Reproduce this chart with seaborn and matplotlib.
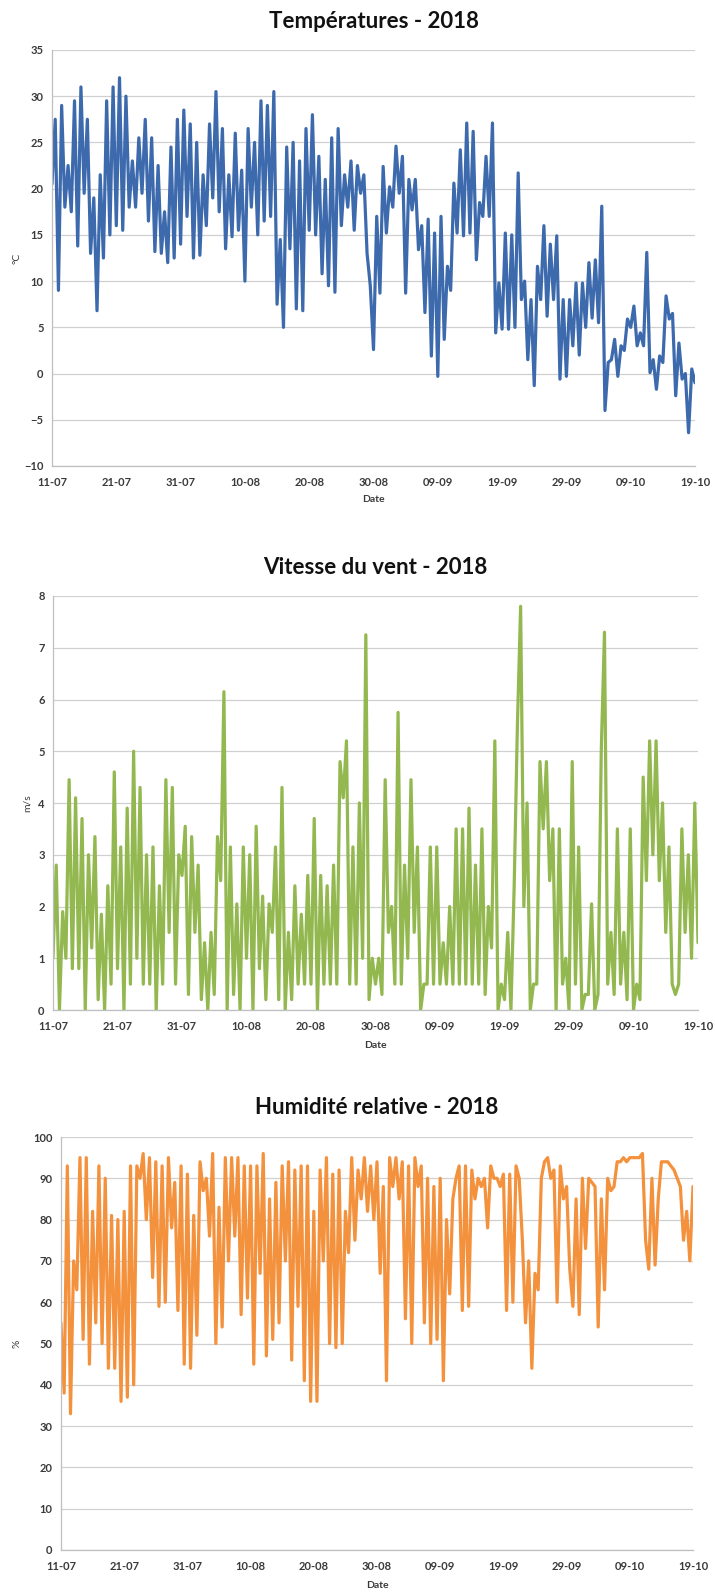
import numpy as np
import pandas as pd
import seaborn as sns
import matplotlib.pyplot as plt

# values every 12 h from 11-07-2018 00:00
temperature = [
    20.5, 27.5, 9, 29, 18, 22.5, 17.5, 29.5, 13.8, 31,
    19.5, 27.5, 13, 19, 6.8, 21.5, 12.5, 29.5, 15, 31,
    16, 32, 15.5, 30, 18, 23, 18, 25.5, 19.5, 27.5,
    16.5, 25.5, 13.2, 22.5, 13, 17.5, 12, 24.5, 12.5, 27.5,
    14, 28.5, 17, 27, 12.5, 25, 12.8, 21.5, 16, 27,
    19, 30.5, 17.5, 26.5, 13.5, 21.5, 14.8, 26, 15.5, 22,
    10, 26.5, 18, 25, 15, 29.5, 16.5, 29, 17, 30.5,
    7.5, 14.5, 5, 24.5, 13.5, 25, 7, 23, 6.8, 26.5,
    15.5, 28, 15, 23.5, 10.8, 21, 9.5, 25.5, 8.8, 26.5,
    16, 21.5, 18, 23, 15.5, 22.5, 19.5, 21.5, 13, 9.5,
    2.6, 17, 8.7, 22.4, 15.2, 20.2, 18, 24.6, 19.5, 23.5,
    8.7, 21, 17.7, 21, 13.4, 16, 6.6, 16.7, 1.9, 15.2,
    -0.3, 17, 3.7, 11.6, 9, 20.6, 15.2, 24.2, 14.9, 27.1,
    15.2, 26.2, 12.3, 18.5, 17, 23.5, 17, 27.1, 4.4, 9.8,
    4.8, 15.2, 4.8, 15, 5, 21.7, 8, 10, 1.5, 8,
    -1.3, 11.6, 8, 16, 6.2, 14, 8, 14.9, -0.6, 8,
    -0.3, 8, 3, 9.8, 2, 9.8, 5, 12, 6, 12.3,
    5.5, 18.1, -4, 1.2, 1.5, 3.7, -0.3, 3, 2.5, 5.9,
    5, 7.3, 3, 4.4, 3, 13.1, 0.1, 1.5, -1.7, 1.9,
    1.2, 8.4, 5.9, 6.5, -2.4, 3.3, -0.6, 0, -6.4, 0.5,
    -1,
]

wind = [
    1.0, 2.8, 0, 1.9, 1.0, 4.45, 0.8, 4.1, 0.8, 3.7,
    0, 3.0, 1.2, 3.35, 0.2, 1.85, 0, 2.4, 0.5, 4.6,
    0.8, 3.15, 0, 3.9, 0.5, 5.0, 1.0, 4.3, 0.5, 3.0,
    0.5, 3.15, 0, 2.4, 0.5, 4.45, 1.5, 4.3, 0.5, 3.0,
    2.6, 3.55, 0.3, 3.35, 1.5, 2.8, 0.2, 1.3, 0, 1.5,
    0.3, 3.35, 2.5, 6.15, 0, 3.15, 0.3, 2.05, 0, 3.15,
    1.0, 3.0, 0, 3.55, 0.8, 2.2, 0.2, 2.05, 1.5, 3.15,
    0.2, 4.3, 0, 1.5, 0.2, 2.4, 0.5, 1.85, 0.5, 2.6,
    0.5, 3.7, 0, 2.6, 0.5, 2.4, 0.5, 2.8, 0.5, 4.8,
    4.1, 5.2, 0.5, 3.15, 0.5, 4.0, 1.0, 7.25, 0.2, 1.0,
    0.5, 1.0, 0.3, 4.45, 1.5, 2.0, 0.5, 5.75, 0.5, 2.8,
    1.0, 4.45, 1.5, 3.15, 0, 0.5, 0.5, 3.15, 0.5, 3.15,
    0.5, 1.3, 0.5, 2.0, 0.5, 3.5, 0.5, 3.5, 0.5, 3.9,
    0.5, 2.8, 0.5, 3.5, 0.3, 2.0, 1.2, 5.2, 0, 0.5,
    0.2, 1.5, 0, 2.4, 5.5, 7.8, 2.0, 4.0, 0, 0.5,
    0.5, 4.8, 3.5, 4.8, 2.5, 3.5, 0, 3.5, 0.5, 1.0,
    0, 4.8, 0.5, 3.15, 0, 0.3, 0.3, 2.05, 0, 0.3,
    5.0, 7.3, 0.5, 1.5, 0.3, 3.5, 0.5, 1.5, 0.2, 3.5,
    0, 0.5, 0.2, 4.5, 2.5, 5.2, 3.0, 5.2, 2.5, 4.0,
    1.5, 3.15, 0.5, 0.3, 0.5, 3.5, 1.5, 3.0, 1.0, 4.0,
    1.3,
]

humidity = [
    55, 38, 93, 33, 70, 63, 95, 51, 95, 45,
    82, 55, 93, 50, 90, 44, 81, 44, 80, 36,
    82, 37, 93, 40, 93, 90, 96, 80, 95, 66,
    94, 59, 93, 60, 95, 78, 89, 58, 93, 45,
    91, 44, 81, 52, 94, 87, 90, 76, 96, 50,
    83, 54, 95, 70, 95, 76, 95, 57, 93, 61,
    93, 45, 93, 67, 96, 47, 85, 51, 89, 55,
    93, 70, 94, 46, 92, 59, 93, 41, 93, 36,
    82, 36, 92, 70, 95, 50, 91, 49, 92, 50,
    82, 72, 95, 75, 92, 85, 95, 82, 93, 80,
    94, 67, 88, 41, 95, 88, 95, 85, 94, 56,
    93, 50, 95, 88, 93, 55, 90, 50, 88, 51,
    90, 41, 80, 62, 85, 90, 93, 58, 93, 59,
    92, 85, 90, 88, 90, 78, 93, 90, 90, 88,
    91, 58, 91, 60, 93, 90, 75, 55, 70, 44,
    67, 63, 90, 94, 95, 90, 92, 60, 93, 85,
    88, 68, 59, 85, 57, 90, 73, 90, 89, 88,
    54, 85, 63, 90, 87, 88, 94, 94, 95, 94,
    95, 95, 95, 95, 96, 75, 68, 90, 69, 85,
    94, 94, 94, 93, 92, 90, 88, 75, 82, 70,
    88,
]

times = pd.date_range("2018-07-11", periods=len(temperature), freq="12h")
date_ticks = pd.date_range("2018-07-11", "2018-10-19", freq="10D")

sns.set_style("white")
plt.rcParams['font.family'] = ['Lato', 'DejaVu Sans']

H = 1594.0
W = 715.0
fig = plt.figure(figsize=(7.15, 15.94), dpi=100)


def draw_panel(box, values, color, title, unit, ymin, ymax, step, title_y, date_y, unit_x):
    left, right, top, bottom = box
    ax = fig.add_axes([left / W, 1 - bottom / H, (right - left) / W, (bottom - top) / H])
    df = pd.DataFrame({"Date": times, "valeur": values})
    sns.lineplot(data=df, x="Date", y="valeur", ax=ax, color=color, linewidth=2.3)

    ax.set_xlim(date_ticks[0], date_ticks[-1])
    ax.set_ylim(ymin, ymax)
    ax.set_yticks(np.arange(ymin, ymax + step / 2, step))
    ax.set_xticks(date_ticks)
    ax.set_xticklabels([d.strftime("%d-%m") for d in date_ticks])
    ax.yaxis.grid(True, color="#d0d0d0", linewidth=0.9)
    ax.xaxis.grid(False)
    ax.set_axisbelow(True)

    for s in ["top", "right"]:
        ax.spines[s].set_visible(False)
    for s in ["left", "bottom"]:
        ax.spines[s].set_color("#bfbfbf")
        ax.spines[s].set_linewidth(0.9)

    ax.tick_params(axis="both", length=3, width=0.8, color="#bfbfbf",
                   labelsize=8, labelcolor="#3a3a3a")
    ax.tick_params(axis="x", pad=5)
    ax.tick_params(axis="y", pad=3)
    for lab in ax.get_xticklabels() + ax.get_yticklabels():
        lab.set_fontweight("bold")
    ax.set_xlabel("")
    ax.set_ylabel("")

    cx = (left + right) / 2 / W
    fig.text(cx, 1 - title_y / H, title, ha="center", va="center",
             fontsize=16, fontweight="bold", color="#111111")
    fig.text(cx, 1 - date_y / H, "Date", ha="center", va="center",
             fontsize=7.5, fontweight="bold", color="#3a3a3a")
    fig.text(unit_x / W, 1 - (top + bottom) / 2 / H, unit, ha="center", va="center",
             rotation=90, fontsize=7.5, color="#3a3a3a")
    return ax


draw_panel((52, 695, 50, 466), temperature, "#3d6aad", "Températures - 2018", "°C",
           -10, 35, 5, 22, 500, 17)
draw_panel((53, 698, 596, 1010), wind, "#92b84f", "Vitesse du vent - 2018", "m/s",
           0, 8, 1, 567, 1045, 27)
draw_panel((61, 693, 1137, 1550), humidity, "#f4913d", "Humidité relative - 2018", "%",
           0, 100, 10, 1108, 1585, 17)

fig.savefig("out.png", dpi=100, facecolor="white")
